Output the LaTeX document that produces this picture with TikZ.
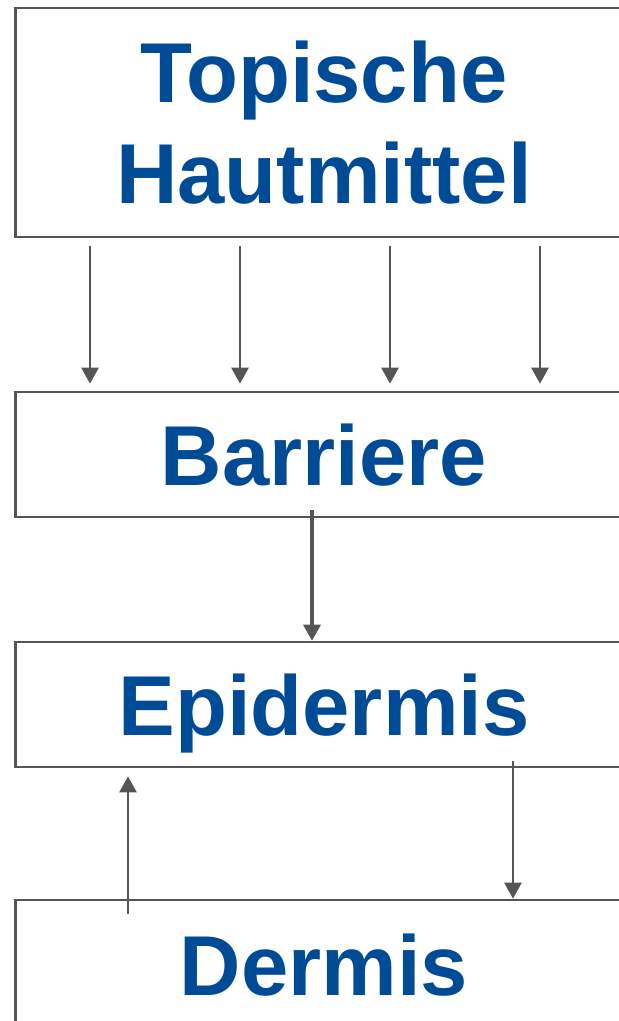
\documentclass[tikz,border=0pt]{standalone}
\usepackage{fontspec}
\setmainfont{Liberation Sans}
\usetikzlibrary{arrows.meta}

\definecolor{hautblau}{RGB}{0,75,150}
\definecolor{linie}{RGB}{85,85,85}

\tikzset{
  schicht/.style={draw=linie, line width=2.6pt, minimum width=617pt, inner sep=0pt,
    text=hautblau, font=\fontsize{85}{101}\selectfont\bfseries,
    text height=62pt, text depth=0pt},
  pfeil/.style={draw=linie, line width=2.4pt, -{Triangle[length=16pt,width=17pt]}},
}

\begin{document}
\begin{tikzpicture}[x=1pt,y=1pt]
\useasboundingbox (0,0) rectangle (619,-1021);
\clip (0,0) rectangle (619,-1021);

\node[schicht, align=center, minimum height=229pt, text height=162pt, text depth=0pt] (mittel) at (324,-122.5) {Topische\\Hautmittel};
\node[schicht, minimum height=125pt] (barriere) at (324,-454.5) {Barriere};
\node[schicht, minimum height=125pt] (epidermis) at (324,-704.5) {Epidermis};
\node[schicht, minimum height=128pt] (dermis) at (324,-964) {Dermis};

\foreach \x in {90,240,390,540}
  \draw[pfeil, shorten <=8pt, shorten >=7pt] (mittel.south -| \x,0) -- (barriere.north -| \x,0);

\draw[pfeil, line width=3.2pt, shorten <=-8pt] (barriere.south -| 312,0) -- (epidermis.north -| 312,0);
\draw[pfeil, shorten <=-15pt, shorten >=8pt] (dermis.north -| 128,0) -- (epidermis.south -| 128,0);
\draw[pfeil, shorten <=-7pt] (epidermis.south -| 513,0) -- (dermis.north -| 513,0);

\end{tikzpicture}
\end{document}
